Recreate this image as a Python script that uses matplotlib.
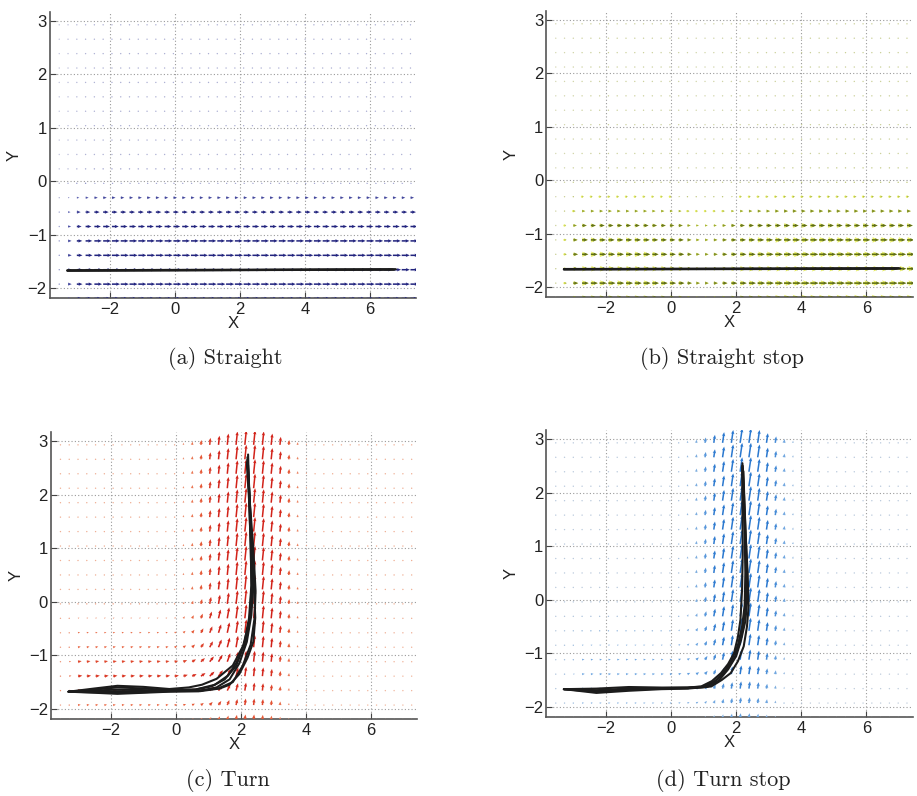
import numpy as np
import matplotlib
matplotlib.use("Agg")
import matplotlib.pyplot as plt
from matplotlib.colors import LinearSegmentedColormap, Normalize

# ---------------- data ----------------
# quiver grid (41 columns x 21 rows)
x_grid = np.linspace(-3.55, 7.25, 41)
y_grid = np.linspace(-2.2, 3.2, 21)

x_ticks = [-2, 0, 2, 4, 6]
y_ticks = [-2, -1, 0, 1, 2, 3]
captions = ["(a) Straight", "(b) Straight stop", "(c) Turn", "(d) Turn stop"]

# straight panels: horizontal speed per row (bottom->top) and gain per column (left->right)
row_speed_a = [0.22, 0.25, 0.25, 0.25, 0.24, 0.21, 0.17, 0.11, 0.05, 0.03,
               0.02, 0.02, 0.02, 0.02, 0.02, 0.02, 0.02, 0.02, 0.02, 0.02, 0.02]
col_gain_a = [0.15, 0.45, 0.7, 0.85, 0.95] + [1.0] * 36

row_speed_b = [0.20, 0.25, 0.25, 0.24, 0.22, 0.18, 0.12, 0.07, 0.04, 0.03,
               0.02, 0.02, 0.02, 0.02, 0.02, 0.02, 0.02, 0.02, 0.02, 0.02, 0.02]
col_gain_b = [0.1, 0.3, 0.6, 0.8, 0.85, 0.85, 0.85, 0.85, 0.85, 0.85, 0.85, 0.8, 0.8,
              0.75, 0.7, 0.55, 0.45, 0.45, 0.5, 0.6, 0.7, 0.8, 0.85, 0.9, 0.9, 0.95,
              1.0, 1.0, 1.0, 1.0, 1.0, 1.0, 1.0, 1.0, 1.0, 1.0, 1.0, 1.0, 1.0, 1.0, 1.0]

# turn panels: vertical speed = v_col * v_row ; horizontal = u_col * u_row + tilt * vertical
v_col_c = [0.015] * 13 + [0.02, 0.04, 0.06, 0.09, 0.13, 0.17, 0.21, 0.25, 0.27, 0.27,
                          0.25, 0.21, 0.15, 0.09, 0.05, 0.03] + [0.015] * 12
v_row_c = [0.35, 0.45, 0.55, 0.65, 0.75, 0.85, 0.92, 0.97] + [1.0] * 13
u_col_c = [0.3, 0.5] + [1.0] * 16 + [0.9, 0.6, 0.3, 0.1] + [0.0] * 19
u_row_c = [0.04, 0.08, 0.12, 0.13, 0.11, 0.08, 0.06, 0.04, 0.02] + [0.0] * 12
tilt_c = 0.17

v_col_d = [0.01] * 14 + [0.025, 0.04, 0.06, 0.10, 0.15, 0.20, 0.24, 0.27, 0.27, 0.24,
                         0.18, 0.12, 0.07, 0.04, 0.02] + [0.01] * 12
v_row_d = [0.3, 0.4, 0.5, 0.6, 0.7, 0.8, 0.9, 0.95] + [1.0] * 13
u_col_d = [0.2, 0.4, 0.6] + [1.0] * 14 + [0.8, 0.5, 0.2] + [0.0] * 21
u_row_d = [0.02, 0.06, 0.08, 0.08, 0.07, 0.05, 0.04, 0.02, 0.01] + [0.0] * 12
tilt_d = 0.24

# trajectories
tracks_a = [
    ([-3.3, 6.7], [-1.68, -1.655]),
    ([-3.3, 6.8], [-1.67, -1.65]),
    ([-3.3, 6.75], [-1.675, -1.66]),
]
tracks_b = [
    ([-3.3, 7.05], [-1.67, -1.655]),
    ([-3.3, 7.0], [-1.665, -1.65]),
    ([-3.3, 6.95], [-1.675, -1.66]),
]
tracks_c = [
    ([-3.3, -2.5, -1.8, -1.0, -0.2, 0.4, 0.8, 1.25, 1.75, 2.07, 2.27, 2.33, 2.3, 2.27, 2.22],
     [-1.68, -1.62, -1.57, -1.59, -1.63, -1.6, -1.55, -1.44, -1.19, -0.82, -0.32, 0.3, 1.0, 1.6, 2.75]),
    ([-3.3, -2.5, -1.8, -1.0, -0.2, 0.6, 1.1, 1.5, 1.85, 2.1, 2.25, 2.32, 2.3, 2.25, 2.18],
     [-1.68, -1.66, -1.64, -1.65, -1.66, -1.64, -1.58, -1.45, -1.2, -0.8, -0.3, 0.3, 1.1, 1.9, 2.6]),
    ([-3.3, -2.5, -1.8, -1.0, -0.2, 0.7, 1.25, 1.65, 1.95, 2.18, 2.32, 2.38, 2.33, 2.27, 2.2],
     [-1.68, -1.7, -1.72, -1.7, -1.68, -1.67, -1.6, -1.45, -1.15, -0.75, -0.25, 0.3, 1.1, 1.9, 2.65]),
    ([-3.3, -2.5, -1.8, -1.0, -0.2, 0.7, 1.3, 1.75, 2.05, 2.3, 2.42, 2.45, 2.38, 2.28, 2.22],
     [-1.68, -1.69, -1.7, -1.69, -1.67, -1.66, -1.62, -1.5, -1.2, -0.8, -0.3, 0.2, 1.0, 1.8, 2.55]),
    ([-3.3, -2.5, -1.8, -1.0, -0.2, 0.6, 1.2, 1.6, 1.9, 2.15, 2.3, 2.35, 2.32, 2.26, 2.2],
     [-1.68, -1.64, -1.6, -1.62, -1.65, -1.64, -1.55, -1.38, -1.1, -0.7, -0.2, 0.4, 1.2, 2.0, 2.7]),
    ([-3.3, -2.5, -1.8, -1.0, -0.2, 0.75, 1.35, 1.65, 1.95, 2.2, 2.38, 2.44, 2.4, 2.32, 2.26, 2.2],
     [-1.68, -1.68, -1.67, -1.67, -1.67, -1.67, -1.62, -1.55, -1.35, -1.05, -0.75, -0.3, 0.3, 1.1, 1.9, 2.6]),
]
tracks_d = [
    ([-3.3, -2.3, -1.3, -0.3, 0.5, 0.92, 1.25, 1.53, 1.75, 1.93, 2.05, 2.13, 2.18, 2.2, 2.18],
     [-1.67, -1.66, -1.63, -1.64, -1.64, -1.62, -1.52, -1.37, -1.2, -1.0, -0.7, -0.37, 0.2, 0.88, 2.5]),
    ([-3.3, -2.3, -1.3, -0.3, 0.5, 1.0, 1.35, 1.65, 1.88, 2.05, 2.18, 2.26, 2.28, 2.26, 2.2],
     [-1.67, -1.69, -1.66, -1.65, -1.65, -1.63, -1.52, -1.33, -1.1, -0.85, -0.5, -0.1, 0.5, 1.2, 2.45]),
    ([-3.3, -2.3, -1.3, -0.3, 0.5, 1.1, 1.45, 1.75, 2.0, 2.15, 2.28, 2.34, 2.33, 2.28, 2.2],
     [-1.67, -1.72, -1.68, -1.66, -1.65, -1.63, -1.52, -1.3, -1.05, -0.75, -0.4, 0.0, 0.6, 1.4, 2.5]),
    ([-3.3, -2.3, -1.3, -0.3, 0.5, 1.23, 1.55, 1.83, 2.05, 2.23, 2.33, 2.38, 2.35, 2.28, 2.22],
     [-1.67, -1.74, -1.7, -1.67, -1.66, -1.62, -1.5, -1.37, -1.15, -0.87, -0.5, -0.12, 0.5, 1.3, 2.4]),
    ([-3.3, -2.3, -1.3, -0.3, 0.5, 1.05, 1.4, 1.7, 1.95, 2.1, 2.22, 2.3, 2.31, 2.27, 2.19],
     [-1.67, -1.7, -1.67, -1.65, -1.64, -1.62, -1.5, -1.32, -1.08, -0.8, -0.45, -0.05, 0.55, 1.3, 2.55]),
]

# ---------------- build fields ----------------
X, Y = np.meshgrid(x_grid, y_grid)

def straight_field(row_speed, col_gain):
    U = np.outer(row_speed, col_gain)
    V = np.zeros_like(U)
    return U, V

def turn_field(v_col, v_row, u_col, u_row, tilt):
    V = np.outer(v_row, v_col)
    U = np.outer(u_row, u_col) + tilt * V
    return U, V

Ua, Va = straight_field(row_speed_a, col_gain_a)
Ub, Vb = straight_field(row_speed_b, col_gain_b)
Uc, Vc = turn_field(v_col_c, v_row_c, u_col_c, u_row_c, tilt_c)
Ud, Vd = turn_field(v_col_d, v_row_d, u_col_d, u_row_d, tilt_d)

# ---------------- styling ----------------
plt.rcParams['font.family'] = ['Liberation Sans', 'DejaVu Sans']

fig = plt.figure(figsize=(9.17, 7.96), dpi=100)
W, H = 917.0, 796.0
positions = [
    [49.5 / W, 1 - 298 / H, 366.5 / W, 286 / H],
    [546 / W, 1 - 297 / H, 366.5 / W, 286 / H],
    [50.7 / W, 1 - 719 / H, 366.5 / W, 287 / H],
    [546 / W, 1 - 717 / H, 366.5 / W, 287 / H],
]
caption_pos = [(225, 358), (722, 358), (228, 781), (723, 780)]

cmaps = [
    LinearSegmentedColormap.from_list("a", ["#c8cadf", "#5a5fb0", "#22247e"]),
    LinearSegmentedColormap.from_list("b", ["#d6d9b8", "#a7b43a", "#5d6c18"]),
    LinearSegmentedColormap.from_list("c", ["#f1c0a8", "#e8603a", "#d2231a"]),
    LinearSegmentedColormap.from_list("d", ["#c4cedb", "#6aa4e0", "#2a78cf"]),
]
fields = [(Ua, Va), (Ub, Vb), (Uc, Vc), (Ud, Vd)]
tracks_all = [tracks_a, tracks_b, tracks_c, tracks_d]

qkw = dict(angles="xy", scale_units="xy", scale=1, headwidth=2.2, headlength=2.6,
           headaxislength=2.3, minlength=1.0)

for k in range(4):
    ax = fig.add_axes(positions[k])
    ax.set_xlim(-3.85, 7.42)
    ax.set_ylim(-2.19, 3.17)
    ax.set_xticks(x_ticks)
    ax.set_yticks(y_ticks)
    ax.grid(True, linestyle=(0, (1, 2)), color="#9a9a9a", linewidth=0.8, zorder=0)
    for s in ["top", "right"]:
        ax.spines[s].set_visible(False)
    for s in ["left", "bottom"]:
        ax.spines[s].set_color("#555555")
        ax.spines[s].set_linewidth(1.2)
    ax.tick_params(direction="in", length=4, width=0.8, color="#444444",
                   labelsize=12, labelcolor="#222222")
    ax.tick_params(axis="x", pad=3)
    ax.tick_params(axis="y", pad=2)
    ax.set_xlabel("X", fontsize=12, labelpad=-1, color="#222222")
    ax.set_ylabel("Y", fontsize=12, labelpad=4, color="#222222")

    U, V = fields[k]
    M = np.hypot(U, V)
    if k == 1:
        big = M > 0.05
        ax.quiver(X[big], Y[big], U[big], V[big], color="#e2ea40", width=0.007,
                  zorder=2, alpha=0.85, **qkw)
    ax.quiver(X, Y, U, V, M, cmap=cmaps[k], norm=Normalize(0.0, 0.16),
              width=0.0042, zorder=3, **qkw)

    for tx, ty in tracks_all[k]:
        ax.plot(tx, ty, color="#1c1c1c", linewidth=1.5, solid_joinstyle="round",
                solid_capstyle="round", zorder=4)

    cx, cy = caption_pos[k]
    fig.text(cx / W, 1 - cy / H, captions[k], ha="center", va="center",
             fontsize=16, family="cmr10", color="#222222")

fig.savefig("out.png", dpi=100)
